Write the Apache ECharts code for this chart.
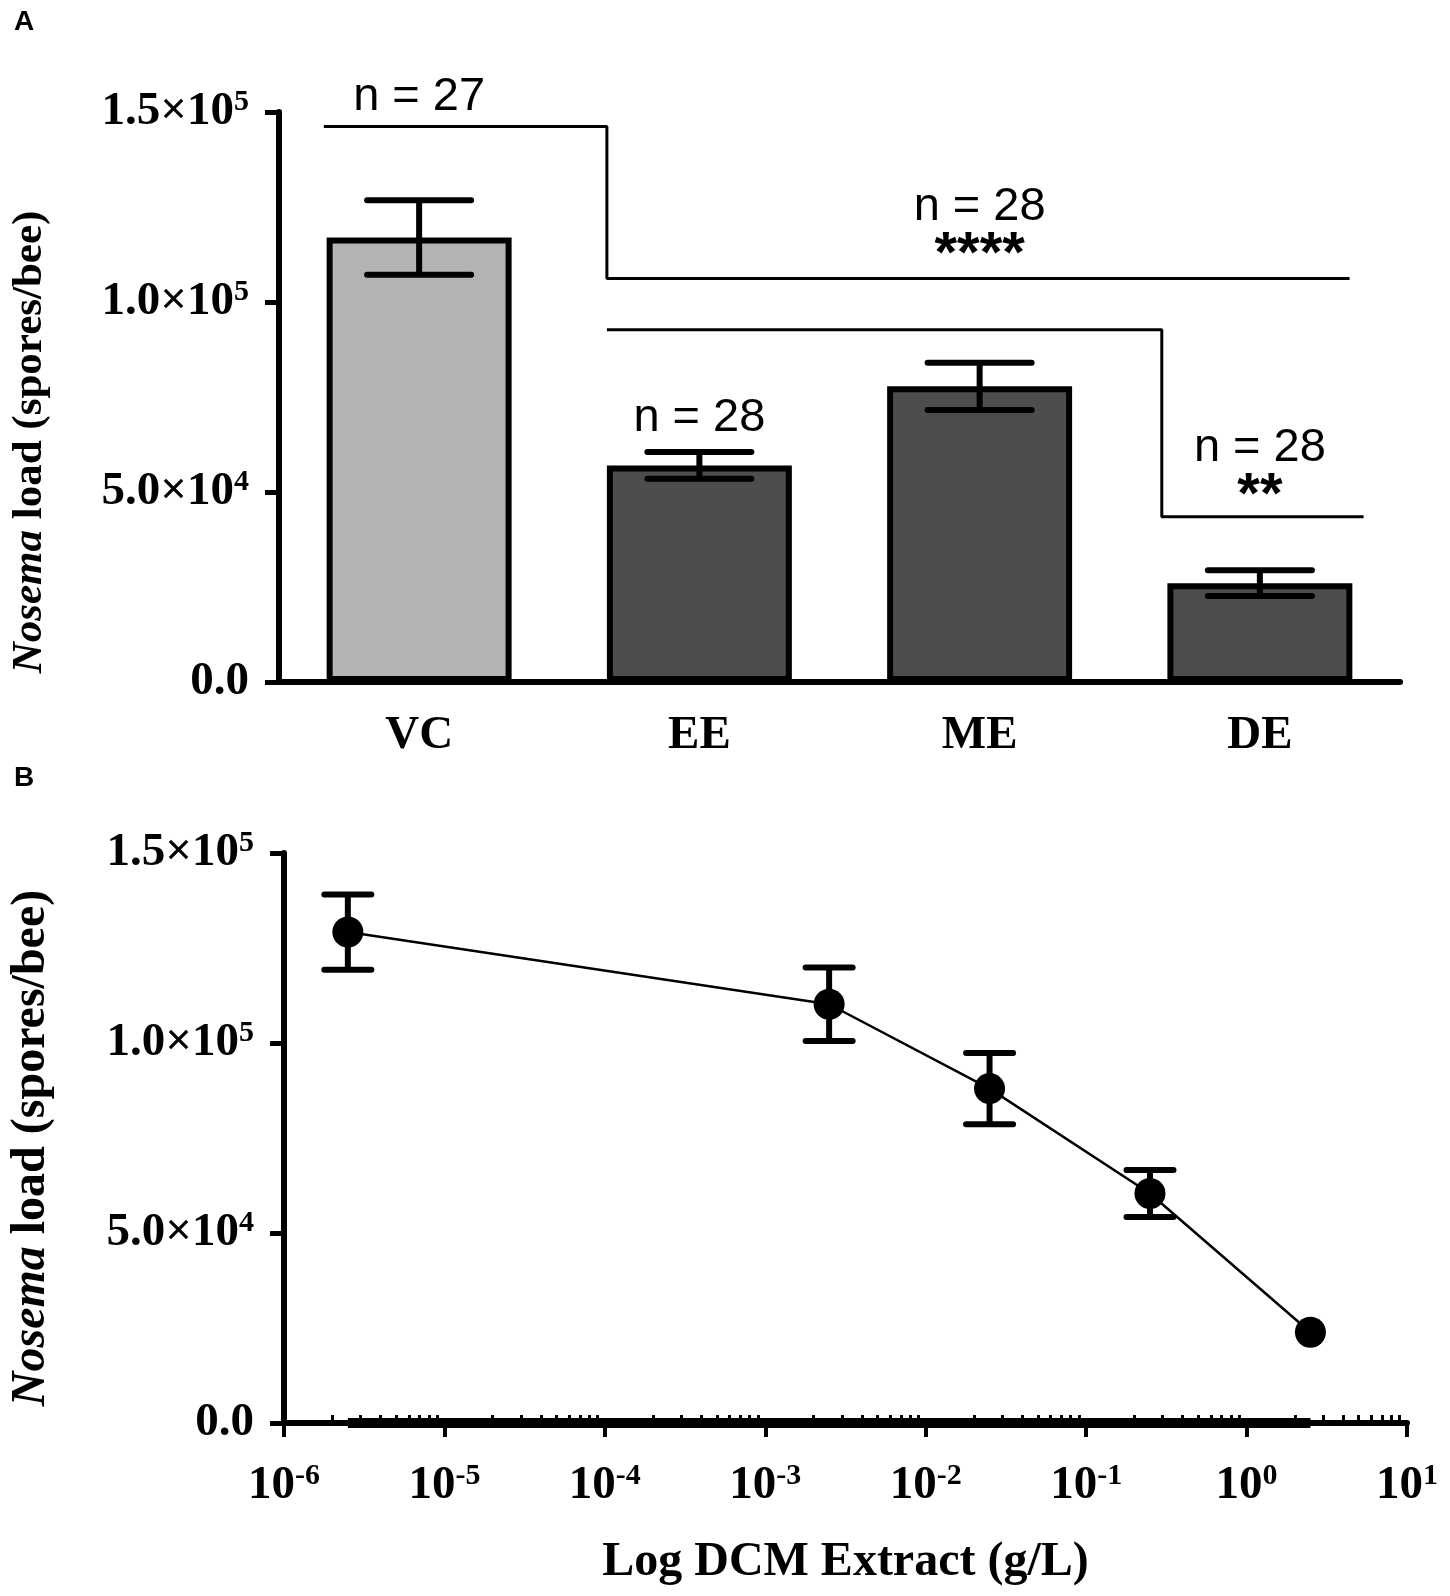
<!DOCTYPE html>
<html style="height: 100%">
<head>
<meta charset="utf-8">
</head>
<body style="height: 100%; margin: 0; background: #fff">
<div id="container" style="width: 1450px; height: 1596px"></div>
<script src="https://cdn.jsdelivr.net/npm/echarts@6/dist/echarts.min.js"></script>
<script>
// Panel A: extract treatments
var groups = ['VC', 'EE', 'ME', 'DE'];
var groupMean = [117000, 57000, 77800, 26000];
var groupSem = [9800, 3500, 6200, 3400];
var groupFill = ['#b3b3b3', '#4d4d4d', '#4d4d4d', '#4d4d4d'];

// bracket lines of panel A, x in category units (0 = VC centre)
var bracket1 = [[-0.34, 146200], [0.67, 146200], [0.67, 106200], [3.32, 106200]];
var bracket2 = [[0.67, 92700], [2.65, 92700], [2.65, 43500], [3.37, 43500]];
var notes = [
    {text: 'n = 27', x: 0, y: 154000},
    {text: 'n = 28', x: 2, y: 125000},
    {text: '****', x: 2, y: 112000, star: true},
    {text: 'n = 28', x: 1, y: 69500},
    {text: 'n = 28', x: 3, y: 61500},
    {text: '**', x: 3, y: 48800, star: true}
];

// Panel B: DCM extract dose response
var dose = [2.5e-6, 2.5e-3, 2.5e-2, 0.25, 2.5];
var doseMean = [129200, 110200, 88000, 60400, 23900];
var doseSem = [9900, 9700, 9400, 6200, 0];

var dom = document.getElementById('container');
var myChart = echarts.init(dom);

var serif = 'Liberation Serif';
var sans = 'Liberation Sans';

function sciLabel(v) {
    if (v === 0) return '{b|0.0}';
    var e = Math.floor(Math.log10(v) + 1e-9);
    var m = (v / Math.pow(10, e)).toFixed(1);
    return '{b|' + m + '×10}{s|' + e + '}';
}
var sciRich = {
    b: {fontFamily: serif, fontWeight: 'bold', fontSize: 47, color: '#000', lineHeight: 50},
    s: {fontFamily: serif, fontWeight: 'bold', fontSize: 30, color: '#000', verticalAlign: 'top', lineHeight: 50, padding: [0, 0, 14, 0]}
};
function nameRich(size) {
    return {
        i: {fontFamily: serif, fontWeight: 'bold', fontStyle: 'italic', fontSize: size, color: '#000'},
        b: {fontFamily: serif, fontWeight: 'bold', fontSize: size, color: '#000'}
    };
}

function errRenderer(capW) {
    return function (params, api) {
        var x = api.value(0), m = api.value(1), e = api.value(2);
        if (!e) return null;
        var top = api.coord([x, m + e]);
        var bot = api.coord([x, m - e]);
        var st = {stroke: '#000', lineWidth: 6, lineCap: 'round'};
        return {
            type: 'group',
            children: [
                {type: 'line', shape: {x1: top[0], y1: top[1], x2: bot[0], y2: bot[1]}, style: {stroke: '#000', lineWidth: 6}},
                {type: 'line', shape: {x1: top[0] - capW / 2, y1: top[1], x2: top[0] + capW / 2, y2: top[1]}, style: st},
                {type: 'line', shape: {x1: bot[0] - capW / 2, y1: bot[1], x2: bot[0] + capW / 2, y2: bot[1]}, style: st}
            ]
        };
    };
}

// log minor ticks 2..9 per decade
var minorVals = [];
for (var d = -6; d < 1; d++) {
    for (var k = 2; k <= 9; k++) minorVals.push(k * Math.pow(10, d));
}

option = {
    animation: false,
    backgroundColor: '#fff',
    graphic: [
        {type: 'text', left: 14, top: 8, style: {text: 'A', fontFamily: sans, fontWeight: 'bold', fontSize: 28, fill: '#000'}},
        {type: 'text', left: 14, top: 764, style: {text: 'B', fontFamily: sans, fontWeight: 'bold', fontSize: 28, fill: '#000'}}
    ],
    grid: [
        {left: 263, right: 50, top: 112, height: 570},
        {left: 270, right: 43, top: 853, height: 570}
    ],
    xAxis: [
        {
            type: 'category', gridIndex: 0, data: groups,
            axisLine: {lineStyle: {color: '#000', width: 6}},
            axisTick: {alignWithLabel: true, length: 14, lineStyle: {width: 5, color: '#000'}},
            axisLabel: {margin: 30, fontFamily: serif, fontWeight: 'bold', fontSize: 47, color: '#000'}
        },
        {type: 'value', gridIndex: 0, min: -0.5, max: 3.5, show: false},
        {
            type: 'log', gridIndex: 1, min: 1e-6, max: 10, logBase: 10,
            axisLine: {onZero: false, lineStyle: {color: '#000', width: 6}},
            axisTick: {length: 14, lineStyle: {width: 4, color: '#000'}},
            splitLine: {show: false},
            axisLabel: {
                margin: 38,
                formatter: function (v) {
                    return '{b|10}{s|' + Math.round(Math.log10(v)) + '}';
                },
                rich: sciRich
            },
            name: 'Log DCM Extract (g/L)', nameLocation: 'middle', nameGap: 116,
            nameTextStyle: {fontFamily: serif, fontWeight: 'bold', fontSize: 48, color: '#000'}
        },
        {
            type: 'log', gridIndex: 1, min: 1e-6, max: 10, logBase: 10,
            axisLine: {show: false},
            axisTick: {show: true, length: 8, customValues: minorVals, lineStyle: {width: 3, color: '#000'}},
            axisLabel: {show: false},
            splitLine: {show: false}
        }
    ],
    yAxis: [
        {
            type: 'value', gridIndex: 0, min: 0, max: 150000, interval: 50000,
            axisLine: {show: true, onZero: false, lineStyle: {color: '#000', width: 6}},
            axisTick: {show: true, length: 14, lineStyle: {width: 5, color: '#000'}},
            splitLine: {show: false},
            axisLabel: {margin: 30, formatter: sciLabel, rich: sciRich},
            name: '{i|Nosema}{b| load (spores/bee)}', nameLocation: 'middle', nameGap: 228,
            nameTextStyle: {rich: nameRich(43), padding: [0, 90, 0, 0]}
        },
        {
            type: 'value', gridIndex: 1, min: 0, max: 150000, interval: 50000,
            axisLine: {show: true, onZero: false, lineStyle: {color: '#000', width: 6}},
            axisTick: {show: true, length: 14, lineStyle: {width: 5, color: '#000'}},
            splitLine: {show: false},
            axisLabel: {margin: 30, formatter: sciLabel, rich: sciRich},
            name: '{i|Nosema}{b| load (spores/bee)}', nameLocation: 'middle', nameGap: 228,
            nameTextStyle: {rich: nameRich(48), padding: [0, 20, 0, 0]}
        }
    ],
    series: [
        {
            type: 'bar', xAxisIndex: 0, yAxisIndex: 0, barWidth: '66%',
            data: groupMean.map(function (v, i) {
                return {value: v, itemStyle: {color: groupFill[i]}};
            }),
            itemStyle: {borderColor: '#000', borderWidth: 6},
            z: 2
        },
        {
            type: 'custom', xAxisIndex: 1, yAxisIndex: 0, z: 5,
            renderItem: errRenderer(104),
            data: groupMean.map(function (v, i) { return [i, v, groupSem[i]]; })
        },
        {
            type: 'line', xAxisIndex: 1, yAxisIndex: 0, symbol: 'none', z: 4, clip: false,
            lineStyle: {color: '#000', width: 3}, data: bracket1
        },
        {
            type: 'line', xAxisIndex: 1, yAxisIndex: 0, symbol: 'none', z: 4, clip: false,
            lineStyle: {color: '#000', width: 3}, data: bracket2
        },
        {
            type: 'scatter', xAxisIndex: 1, yAxisIndex: 0, symbolSize: 1, z: 6, clip: false,
            itemStyle: {opacity: 0},
            data: notes.map(function (n) {
                return {
                    value: [n.x, n.y],
                    label: {
                        show: true, position: 'inside', formatter: n.text, color: '#000', opacity: 1,
                        fontFamily: sans, fontWeight: n.star ? 'bold' : 'normal',
                        fontSize: n.star ? 58 : 47
                    }
                };
            })
        },
        {
            type: 'line', xAxisIndex: 2, yAxisIndex: 1, symbol: 'none', z: 3,
            lineStyle: {color: '#000', width: 10},
            data: [[dose[0], 0], [dose[dose.length - 1], 0]]
        },
        {
            type: 'line', xAxisIndex: 2, yAxisIndex: 1, z: 4,
            symbol: 'circle', symbolSize: 31,
            itemStyle: {color: '#000'},
            lineStyle: {color: '#000', width: 2.5},
            data: dose.map(function (x, i) { return [x, doseMean[i]]; })
        },
        {
            type: 'custom', xAxisIndex: 2, yAxisIndex: 1, z: 5,
            renderItem: errRenderer(47),
            data: dose.map(function (x, i) { return [x, doseMean[i], doseSem[i]]; })
        }
    ]
};

myChart.setOption(option, true);
</script>
</body>
</html>
